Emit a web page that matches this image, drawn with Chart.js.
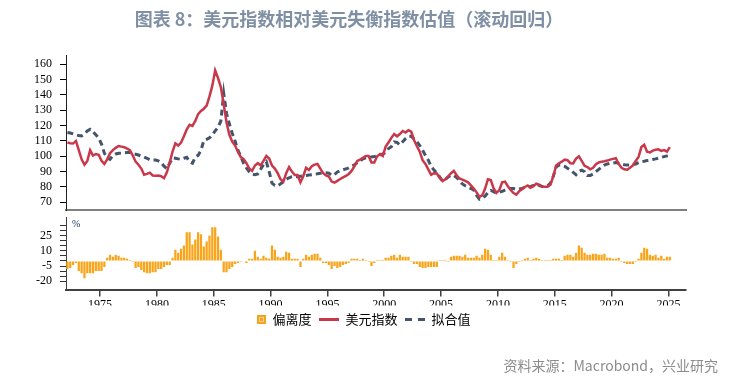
<!DOCTYPE html>
<html><head><meta charset="utf-8">
<script src="https://cdn.jsdelivr.net/npm/chart.js@4"></script>
<style>
html,body{margin:0;padding:0;background:#fff;width:754px;height:383px;overflow:hidden;}
#c1{position:absolute;left:0;top:0;}
#c2{position:absolute;left:0;top:214px;}
</style></head><body>
<canvas id="c1" width="698" height="214"></canvas>
<canvas id="c2" width="754" height="169"></canvas>
<script>
// Quarterly observations, first quarter of 1972 onward
const firstQuarter = 1972.125;
const quarterStep = 0.25;

const dollarIndex = [
 109,108.5,108.3,110,104,98,94.5,97,104,100.5,
 101.5,101,97,95,98,102,104,105.5,106.7,106.3,
 105.9,105,104,100.5,96.5,94.5,92,88,88.5,89.3,
 87.5,87.3,87.4,87,85.7,89.5,96,103,108.5,107,
 109,113,117.5,120.5,119.8,123,127.5,129.5,131,133,
 139,146,156,151,145,134,122,114,109.5,107,
 103,99.5,98.2,95.5,92,90.5,94,95.5,94,97,
 100.2,98.5,94,92,89,85,83.5,89,93,90,
 87.8,87.8,83,87,92.5,91.1,93.5,94.6,95,92,
 89,87.5,86.8,83.5,82.8,84,85.2,86.2,87.2,88.5,
 90.5,93.5,97,97.8,99,100.2,100.2,96,96,100,
 101.5,100.2,106.3,109,112,114.5,113,114.5,116.5,115.5,
 117,116,110.5,106.5,103,97.5,95,91.5,88,89,
 88.8,86,83.8,85,87,89,90.5,87.5,85.5,84.8,
 84,83,81,79,76.5,73.5,74.5,79,85,84.5,
 79,76.2,78,83,83.5,80.5,78,76,75,77.3,
 78.5,80,81,79.5,80.5,82.2,81.5,80.3,80.2,80.2,
 81.5,87,94,95.5,96.5,97.8,97.5,95.5,95.3,98.5,
 100,97,93.8,93,91.5,92.5,94.8,96,96.5,96.8,
 97.2,97.8,98.3,98.7,95,92.5,91.5,91.2,92.5,94,
 97,99.5,106,107.5,103,102.5,103.7,104.2,104.5,103.5,
 104,103,106
];

const fittedValue = [
 115.5,115.2,114.6,114,113.5,113.3,114.5,116.5,117.6,116,
 114,112,108,102,99,98,100.5,101.5,102,102,
 102.2,102.4,102.4,101.7,101.3,100.8,100.2,99.5,98.7,97.7,
 97.6,97.6,97,95.8,93.5,92,95.5,99,98.7,98.3,
 98,98.7,99.3,96.5,95.5,99.5,100.6,104,110.2,111,
 112,114,116.5,119,123,141,128,121,115,110,
 104,100,95.5,92.5,90,88.3,88,88.5,91.5,94.5,
 96.5,90,82.5,81,80.7,82,83.6,85,86,86.7,
 86.7,86.7,87,87.2,87.5,87.8,88,88.4,88.6,89,
 89.2,89.2,89,87.5,88,89.8,90.6,91.2,91.8,92.4,
 93.5,94.5,95.8,97,98.3,99,99.3,99.6,99.8,100.3,
 100.9,101.5,102.5,105,106.3,109.4,109,107.4,109.5,111.5,
 113,113,111.4,109.5,107,104,100.5,97.5,93.5,91,
 89,86.5,84,85,86.5,87.6,87.5,86.2,84,82,
 80.8,79.8,79,78,74.5,72,72.8,74,76.5,77.8,
 77,76,76.5,77.2,78,78.6,79,79,78.5,78.7,
 79.1,79.8,80.2,80.2,81,82,81,80.3,80.2,80.8,
 82.5,87,93,94.3,94.3,93.5,92.2,91,89.5,88,
 90,91,90,87.5,87.5,88.5,90,91.5,93,94.3,
 95,95.4,95.6,95.9,95.5,95,94.5,94.3,94.3,94.6,
 95,95.8,96.5,96.8,97.2,97.5,97.9,98.3,98.8,99.3,
 99.8,100.3,101
];

const deviation = [
 -8,-7,-4,-2,-10,-12,-17,-12,-12,-12,
 -10,-10,-10,-6,3,6,4,6,5,3,
 3,2,1,-1,-7,-6,-9,-11,-12,-12,
 -11,-11,-8,-8,-6,-4,-4,3,11,8,
 12,15,28,28,16,21,28,26,14,19,
 25,33,33,24,11,-11,-11,-8,-6,-3,
 -2,-1,0,-2,2,2,10,4,2,5,
 3,2,15,11,4,3,4,9,8,2,
 2,2,-6,2,6,4,6,7,7,3,
 -2,-2,-4,-8,-5,-7,-6,-4,-3,-2,
 2,2,2,1,2,1,-1,-5,-2,1,
 1,1,3,3,5,6,3,6,4,4,
 4,-1,-3,-3,-6,-7,-7,-6,-6,-6,
 -6,1,1,1,-1,4,5,5,5,4,
 6,3,3,3,5,3,6,12,11,6,
 1,1,4,8,4,1,-1,-7,-3,-1,
 1,2,3,1,2,3,2,1,1,1,
 1,2,2,2,1,5,6,6,4,8,
 15,13,8,6,6,7,7,6,6,7,
 3,3,2,2,3,-1,-2,-3,-3,-3,
 -1,2,8,13,12,6,5,6,3,5,
 2,4,4
];

const yearTicks = [1975,1980,1985,1990,1995,2000,2005,2010,2015,2020,2025];
const indexTicks = [70,80,90,100,110,120,130,140,150,160];
const deviationTicks = [-20,-15,-10,-5,0,5,10,15,20,25,30,35];
const deviationLabelled = [-20,-5,10,25];
const legendLabels = ['偏离度','美元指数','拟合值'];
const titleText = '图表 8：美元指数相对美元失衡指数估值（滚动回归）';
const sourceText = '资料来源：Macrobond，兴业研究';

const quarters = dollarIndex.map((_, i) => firstQuarter + i * quarterStep);
const toPoints = arr => arr.map((v, i) => ({x: quarters[i], y: v}));

const RED = '#c9384a', NAVY = '#44546a', ORANGE = '#f8a51c';
const serif = '"Liberation Serif", "Times New Roman", serif';
const cjk = '"Noto Sans CJK SC", "Noto Sans", sans-serif';

function makeIcon(w, h, draw) {
  const c = document.createElement('canvas'); c.width = w; c.height = h;
  draw(c.getContext('2d')); return c;
}
const icons = [
  makeIcon(20, 9, g => { g.fillStyle = '#f5a21f'; g.fillRect(11,0,9,9); g.fillStyle = '#fcd48a'; g.fillRect(13,2,5,5); g.fillStyle = '#f5a21f'; g.fillRect(14,3,3,3); }),
  makeIcon(20, 3, g => { g.fillStyle = RED; g.fillRect(0,0,20,3); }),
  makeIcon(20, 3, g => { g.fillStyle = NAVY; g.fillRect(0,0,7,3); g.fillRect(13,0,7,3); })
];

const xMin = 1972, xMax = 2026.55;

new Chart(document.getElementById('c1'), {
  type: 'line',
  data: { datasets: [
    { label: legendLabels[1], data: toPoints(dollarIndex), borderColor: RED, borderWidth: 2.5, pointRadius: 0, tension: 0, order: 0 },
    { label: legendLabels[2], data: toPoints(fittedValue), borderColor: NAVY, borderWidth: 3, borderDash: [6,4], pointRadius: 0, tension: 0, order: 1 }
  ]},
  options: {
    responsive: false, animation: false, devicePixelRatio: 1, events: [],
    layout: { padding: { left: 12, right: 12, top: 0, bottom: 0 } },
    plugins: {
      legend: { display: false }, tooltip: { enabled: false },
      title: { display: true, text: titleText, color: '#7f8fa4',
        font: { family: cjk, size: 18, weight: 'bold', lineHeight: 1.2 },
        padding: { top: 8, bottom: 25.4 } }
    },
    scales: {
      x: { type: 'linear', min: xMin, max: xMax, offset: false,
        ticks: { display: false },
        grid: { display: true, drawOnChartArea: false, drawTicks: false },
        border: { display: true, color: '#7f7f7f', width: 2 },
        afterFit(s) { s.height = 4; s.paddingLeft = 0; s.paddingRight = 0; } },
      y: { min: 65, max: 166,
        afterBuildTicks(s) { s.ticks = indexTicks.map(v => ({ value: v })); },
        ticks: { color: '#000', font: { family: serif, size: 12 }, padding: 8, autoSkip: false },
        grid: { drawOnChartArea: false, tickLength: 6, color: '#000', lineWidth: 1 },
        border: { color: '#222', width: 1 },
        afterFit(s) { s.width = 54; s.paddingTop = 0; s.paddingBottom = 0; } }
    }
  }
});

const annotations = {
  id: 'annotations',
  afterDraw(chart) {
    const ctx = chart.ctx, a = chart.chartArea;
    ctx.save();
    ctx.font = '10px ' + serif; ctx.fillStyle = '#1f3864';
    ctx.textAlign = 'left'; ctx.textBaseline = 'middle';
    ctx.fillText('%', a.left + 6, a.top + 7);
    ctx.font = '14px ' + cjk; ctx.fillStyle = '#8c8c8c';
    ctx.textAlign = 'right';
    ctx.fillText(sourceText, 718, 152);
    ctx.restore();
  }
};

new Chart(document.getElementById('c2'), {
  type: 'bar',
  data: { datasets: [
    { label: legendLabels[0], data: toPoints(deviation), backgroundColor: ORANGE, borderWidth: 0, barPercentage: 0.8, categoryPercentage: 1 }
  ]},
  options: {
    responsive: false, animation: false, devicePixelRatio: 1, events: [],
    layout: { padding: { left: 30.5, right: 68, top: 3, bottom: 47 } },
    plugins: {
      tooltip: { enabled: false },
      legend: { display: true, position: 'bottom',
        labels: { usePointStyle: true, pointStyleWidth: 20, boxHeight: 13, padding: 7.5, color: '#000',
          font: { family: cjk, size: 13 },
          generateLabels: () => legendLabels.map((t, k) => ({ text: t, pointStyle: icons[k], fillStyle: 'rgba(0,0,0,0)', strokeStyle: 'rgba(0,0,0,0)', lineWidth: 0, hidden: false, fontColor: '#000', datasetIndex: 0 })) } }
    },
    scales: {
      x: { type: 'linear', min: xMin, max: xMax, offset: false,
        afterBuildTicks(s) { s.ticks = yearTicks.map(v => ({ value: v })); },
        ticks: { color: '#000', font: { family: serif, size: 12 }, padding: 1, autoSkip: false, maxRotation: 0, callback: v => String(v) },
        grid: { drawOnChartArea: false, tickLength: 7, color: '#404040', lineWidth: 1.5, offset: false },
        border: { color: '#404040', width: 2 },
        afterFit(s) { s.height = 16; s.paddingLeft = 0; s.paddingRight = 0; } },
      y: { min: -28, max: 43,
        afterBuildTicks(s) { s.ticks = deviationTicks.map(v => ({ value: v })); },
        ticks: { color: '#000', font: { family: serif, size: 12 }, padding: 8, autoSkip: false,
          callback: v => deviationLabelled.includes(v) ? String(v) : '' },
        grid: { drawOnChartArea: false, tickLength: 6, color: '#333', lineWidth: 1 },
        border: { color: '#404040', width: 1 },
        afterFit(s) { s.width = 35.5; s.paddingTop = 0; s.paddingBottom = 0; } }
    }
  },
  plugins: [annotations]
});
</script>
</body></html>
